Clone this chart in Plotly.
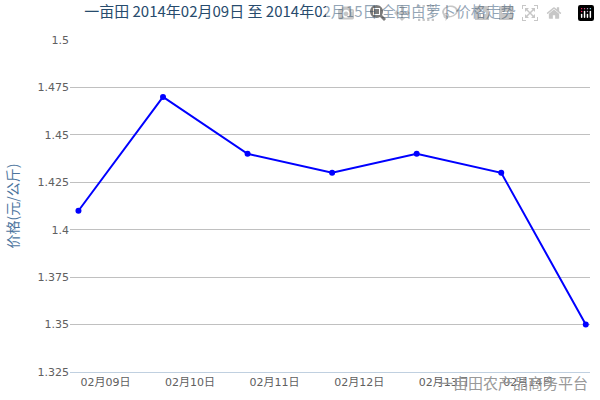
import plotly.graph_objects as go

dates = ["02月09日", "02月10日", "02月11日", "02月12日", "02月13日", "02月14日", "02月15日"]
prices = [1.41, 1.47, 1.44, 1.43, 1.44, 1.43, 1.35]
yticks = [1.325, 1.35, 1.375, 1.4, 1.425, 1.45, 1.475, 1.5]

idx = list(range(len(dates)))
fig = go.Figure(go.Scatter(x=idx, y=prices, mode="lines+markers",
                           line=dict(color="#0000ff", width=2),
                           marker=dict(size=6, color="#0000ff"),
                           hoverinfo="skip"))
font = "Noto Sans CJK SC"
fig.update_layout(
    width=600, height=400, plot_bgcolor="white", paper_bgcolor="white",
    margin=dict(l=70, r=10, t=40, b=28), showlegend=False,
    font=dict(family=font),
    title=dict(text="一亩田 2014年02月09日 至 2014年02月15日 全国白萝卜价格走势",
               x=0.5, xanchor="center", y=0.985, yanchor="top",
               font=dict(size=15, color="#274b6d", family=font)),
    annotations=[dict(text="一亩田农产品商务平台", xref="paper", yref="paper",
                      x=1.0, y=-0.07, xanchor="right", yanchor="bottom", showarrow=False,
                      font=dict(size=15, color="#999999", family=font))],
)
fig.update_xaxes(range=[-0.1, 6.05], tickvals=[i + 0.32 for i in idx[:-1]],
                 ticktext=dates[:-1], showgrid=False, zeroline=False,
                 showline=True, linecolor="#c0d0e0", ticks="",
                 tickfont=dict(size=11, color="#606060", family="DejaVu Sans, " + font))
fig.update_yaxes(range=[1.325, 1.5], tickvals=yticks,
                 ticktext=[f"{v:g}" for v in yticks],
                 gridcolor="#c0c0c0", zeroline=False,
                 tickfont=dict(size=11, color="#606060", family="DejaVu Sans"),
                 title=dict(text="价格(元/公斤)", font=dict(size=14, color="#4d759e"), standoff=15))
fig.write_html("out.html", post_script="document.body.style.margin='0';")
